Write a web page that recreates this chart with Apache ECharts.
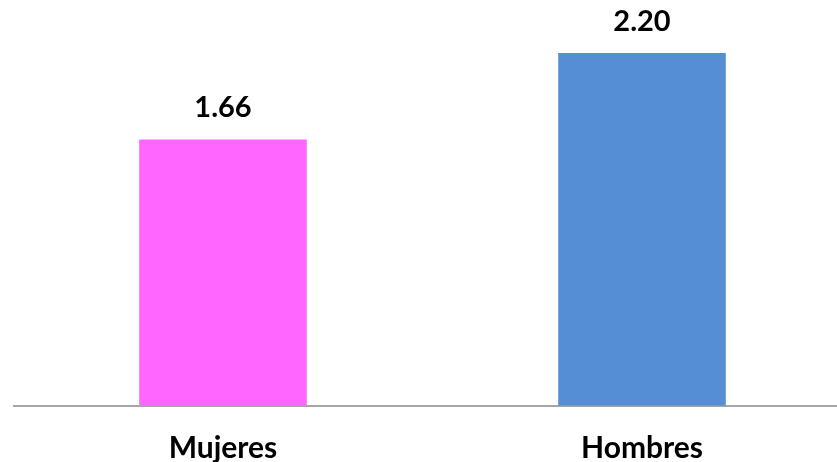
<!DOCTYPE html>
<html><head><meta charset="utf-8">
<script src="https://cdn.jsdelivr.net/npm/echarts@6/dist/echarts.min.js"></script>
<style>html,body{margin:0;padding:0;background:#fff}#c{width:837px;height:462px}</style>
</head><body><div id="c"></div>
<script>
const categories = ['Mujeres', 'Hombres'];
const values = [1.66, 2.20];
const colors = ['#FF66FF', '#558ED5'];

const chart = echarts.init(document.getElementById('c'), null, {renderer: 'canvas'});
chart.setOption({
  animation: false,
  grid: {left: 13.5, width: 838, top: 5, bottom: 56.5, containLabel: false, outerBoundsMode: 'none'},
  xAxis: {
    type: 'category', data: categories,
    axisLine: {lineStyle: {color: '#888888', width: 1.5}},
    axisTick: {show: false},
    axisLabel: {color: '#000', fontFamily: 'Lato', fontWeight: 'bold', fontSize: 30, margin: 28}
  },
  yAxis: {type: 'value', min: 0, max: 2.5, show: false, splitLine: {show: false}},
  series: [{
    type: 'bar', barWidth: '40%',
    data: values.map((v, i) => ({value: v, itemStyle: {color: colors[i]}})),
    label: {show: true, position: 'top', distance: 17, color: '#000', fontFamily: 'Lato', fontWeight: 'bold', fontSize: 29,
      formatter: p => p.value.toFixed(2)}
  }]
});
</script></body></html>
